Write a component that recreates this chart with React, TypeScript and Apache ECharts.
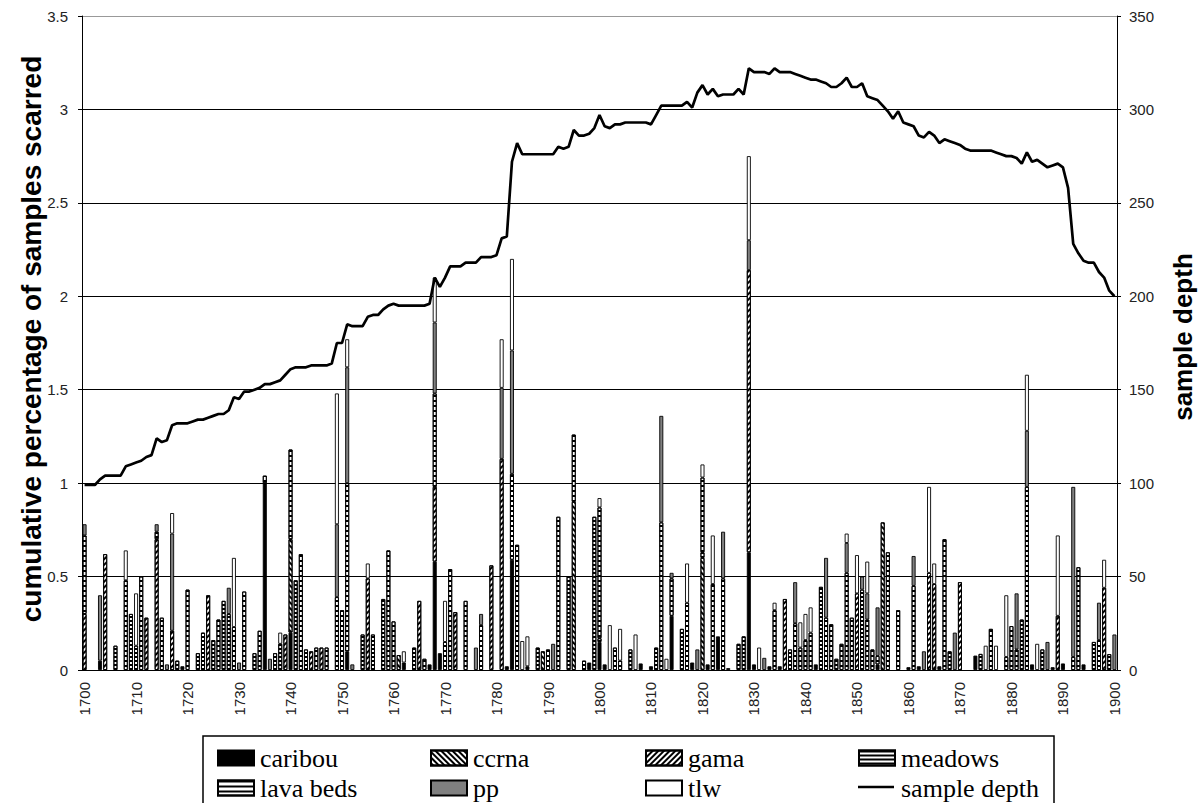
import React, { useEffect, useRef } from "react";
import * as echarts from "echarts";

const years: string[] = Array.from({ length: 201 }, (_, i) => String(1700 + i));

const sampleDepth: number[] = [
  99, 99, 99, 102, 104, 104, 104, 104, 109, 110,
  111, 112, 114, 115, 124, 122, 123, 131, 132, 132,
  132, 133, 134, 134, 135, 136, 137, 137, 139, 146,
  145, 149, 149, 150, 151, 153, 153, 154, 155, 158,
  161, 162, 162, 162, 163, 163, 163, 163, 164, 175,
  175, 185, 184, 184, 184, 189, 190, 190, 193, 195,
  196, 195, 195, 195, 195, 195, 195, 196, 210, 205,
  210, 216, 216, 216, 218, 218, 218, 221, 221, 221,
  222, 231, 232, 272, 282, 276, 276, 276, 276, 276,
  276, 276, 280, 279, 280, 289, 286, 286, 287, 290,
  297, 291, 290, 292, 292, 293, 293, 293, 293, 293,
  292, 297, 302, 302, 302, 302, 302, 304, 301, 309,
  313, 308, 311, 307, 308, 308, 308, 311, 308, 322,
  320, 320, 320, 319, 322, 320, 320, 320, 319, 318,
  317, 316, 316, 315, 314, 312, 312, 314, 317, 312,
  312, 314, 307, 306, 305, 302, 299, 295, 299, 293,
  292, 291, 286, 285, 288, 286, 282, 284, 283, 282,
  281, 279, 278, 278, 278, 278, 278, 277, 276, 275,
  275, 274, 271, 277, 272, 273, 271, 269, 270, 271,
  269, 258, 228, 223, 219, 218, 218, 213, 210, 203, 200,
];

const caribou: Record<number, number> = {
  1703: 0.05, 1719: 0.02, 1735: 1.0, 1740: 0.2, 1751: 0.1, 1762: 0.04, 1767: 0.03,
  1768: 0.58, 1769: 0.09, 1782: 0.02, 1783: 0.59, 1786: 0.02, 1798: 0.04, 1800: 0.15,
  1801: 0.03, 1808: 0.035, 1810: 0.02, 1814: 0.29, 1818: 0.04, 1821: 0.03, 1823: 0.18,
  1825: 0.01, 1829: 0.63, 1830: 0.03, 1833: 0.02, 1835: 0.02, 1842: 0.03, 1854: 0.03,
  1860: 0.015, 1862: 0.02, 1866: 0.02, 1873: 0.077, 1884: 0.03, 1888: 0.015,
  1890: 0.035, 1894: 0.03,
};

const ccrna: Record<number, number> = {
  1740: 0.5, 1761: 0.08, 1789: 0.1, 1795: 0.9, 1820: 0.6, 1855: 0.79,
};

const gama: Record<number, number> = {
  1700: 0.3, 1704: 0.62, 1712: 0.28, 1714: 0.7, 1717: 0.21, 1724: 0.4, 1739: 0.19,
  1744: 0.1, 1746: 0.12, 1755: 0.49, 1765: 0.37, 1768: 0.4, 1772: 0.31, 1779: 0.56,
  1781: 1.13, 1829: 1.51, 1836: 0.38, 1850: 0.41, 1864: 0.52, 1865: 0.46, 1870: 0.47,
  1889: 0.29, 1898: 0.44,
};

const meadows: Record<number, number> = {
  1706: 0.13, 1709: 0.3, 1710: 0.13, 1714: 0.04, 1718: 0.05, 1722: 0.09, 1723: 0.2,
  1725: 0.16, 1727: 0.37, 1728: 0.3, 1733: 0.09, 1737: 0.09, 1738: 0.14, 1741: 0.48,
  1743: 0.11, 1754: 0.19, 1756: 0.19, 1758: 0.38, 1764: 0.12, 1788: 0.12, 1794: 0.5,
  1797: 0.05, 1799: 0.82, 1800: 0.02, 1806: 0.11, 1811: 0.12, 1816: 0.22, 1820: 0.03,
  1827: 0.14, 1828: 0.18, 1837: 0.11, 1843: 0.445, 1846: 0.06, 1851: 0.43, 1868: 0.1,
  1874: 0.086, 1882: 0.27, 1886: 0.11, 1896: 0.15, 1899: 0.085,
};

const lavaBeds: Record<number, number> = {
  1700: 0.42, 1708: 0.48, 1711: 0.5, 1715: 0.28, 1720: 0.43, 1726: 0.27, 1729: 0.23,
  1731: 0.42, 1734: 0.21, 1735: 0.04, 1740: 0.48, 1742: 0.62, 1745: 0.12, 1747: 0.12,
  1749: 0.39, 1750: 0.32, 1751: 0.9, 1759: 0.64, 1760: 0.26, 1766: 0.06, 1768: 0.5,
  1770: 0.15, 1771: 0.54, 1774: 0.37, 1777: 0.24, 1783: 0.46, 1784: 0.67, 1790: 0.11,
  1792: 0.82, 1795: 0.36, 1800: 0.7, 1803: 0.12, 1804: 0.05, 1812: 0.79, 1814: 0.2,
  1817: 0.36, 1820: 0.4, 1822: 0.46, 1824: 0.49, 1834: 0.32, 1838: 0.25, 1839: 0.12,
  1840: 0.16, 1841: 0.2, 1844: 0.28, 1845: 0.245, 1847: 0.14, 1848: 0.52, 1849: 0.28,
  1852: 0.27, 1853: 0.11, 1854: 0.045, 1856: 0.63, 1858: 0.32, 1861: 0.45, 1867: 0.7,
  1876: 0.22, 1879: 0.07, 1880: 0.235, 1881: 0.11, 1883: 0.98, 1892: 0.07, 1893: 0.55,
  1897: 0.16,
};

const pp: Record<number, number> = {
  1700: 0.06, 1703: 0.35, 1714: 0.04, 1716: 0.03, 1717: 0.52, 1728: 0.14, 1730: 0.04,
  1736: 0.06, 1749: 0.39, 1751: 0.62, 1752: 0.03, 1768: 0.38, 1776: 0.12, 1777: 0.06,
  1781: 0.38, 1783: 0.66, 1791: 0.14, 1812: 0.57, 1814: 0.03, 1819: 0.11, 1824: 0.25,
  1829: 0.16, 1832: 0.065, 1838: 0.22, 1844: 0.32, 1848: 0.16, 1851: 0.07, 1852: 0.14,
  1854: 0.26, 1861: 0.16, 1863: 0.1, 1869: 0.2, 1881: 0.3, 1883: 0.3, 1887: 0.15,
  1892: 0.91, 1897: 0.2, 1900: 0.19,
};

const tlw: Record<number, number> = {
  1708: 0.16, 1710: 0.28, 1717: 0.11, 1729: 0.37, 1738: 0.06, 1749: 0.7, 1751: 0.15,
  1755: 0.08, 1762: 0.06, 1768: 0.24, 1770: 0.22, 1781: 0.26, 1783: 0.49, 1785: 0.155,
  1786: 0.16, 1800: 0.05, 1802: 0.24, 1804: 0.17, 1807: 0.19, 1813: 0.06, 1817: 0.21,
  1820: 0.07, 1822: 0.26, 1829: 0.45, 1831: 0.12, 1834: 0.04, 1839: 0.135, 1840: 0.14,
  1841: 0.135, 1848: 0.05, 1850: 0.205, 1852: 0.17, 1864: 0.46, 1865: 0.11, 1875: 0.13,
  1877: 0.13, 1879: 0.33, 1883: 0.3, 1885: 0.14, 1889: 0.43, 1898: 0.15,
};

const legendNames: string[] = ["caribou", "ccrna", "gama", "meadows", "lava beds", "pp", "tlw", "sample depth"];

const expand = (rec: Record<number, number>) =>
  years.map((y) => (rec[Number(y)] !== undefined ? rec[Number(y)] : "-"));

const ccrnaDecal = { symbol: "rect", symbolSize: 1, dashArrayX: [1, 0], dashArrayY: [2, 2], rotation: Math.PI / 4, color: "#000" };
const gamaDecal = { symbol: "rect", symbolSize: 1, dashArrayX: [1, 0], dashArrayY: [2, 2], rotation: -Math.PI / 4, color: "#000" };
const meadowsDecal = { symbol: "rect", symbolSize: 1, dashArrayX: [1, 0], dashArrayY: [1.5, 1.5], rotation: 0, color: "#000" };
const lavaDecal = { symbol: "rect", symbolSize: 1, dashArrayX: [1, 0], dashArrayY: [2, 3], rotation: 0, color: "#000" };

export default function App() {
  const ref = useRef<HTMLDivElement>(null);
  useEffect(() => {
    if (!ref.current) return;
    const chart = echarts.init(ref.current, undefined, { renderer: "svg" });
    const bar = (name: string, rec: Record<number, number>, color: string, decal?: any) => ({
      name,
      type: "bar",
      stack: "fires",
      yAxisIndex: 0,
      barWidth: 4,
      data: expand(rec),
      itemStyle: decal
        ? { color, borderColor: "#000", borderWidth: 0.9, decal }
        : { color, borderColor: "#000", borderWidth: 0.9 },
      emphasis: { disabled: true },
    });
    const font = "Liberation Sans";
    const legendCols = [217, 430, 645, 858];
    const legendRowCenters = [757, 787];
    const legends = legendNames.map((n, i) => {
      const isLine = n === "sample depth";
      const cy = legendRowCenters[Math.floor(i / 4)];
      const base: any = {
        data: [{ name: n, icon: "rect" }],
        left: legendCols[i % 4],
        top: isLine ? cy - 1.25 : cy - 7.5,
        padding: 0,
        itemWidth: 36,
        itemHeight: isLine ? 2.5 : 15,
        selectedMode: false,
        formatter: () => "",
        textStyle: { fontSize: 1 },
      };
      if (isLine) base.itemStyle = { color: "#000", borderWidth: 0 };
      return base;
    });
    const legendTexts = legendNames.map((n, i) => ({
      type: "text",
      x: legendCols[i % 4] + 43,
      y: legendRowCenters[Math.floor(i / 4)] + 1,
      style: {
        text: n,
        font: '26px "Liberation Serif", "Times New Roman", "DejaVu Serif", serif',
        fill: "#000",
        textAlign: "left",
        textVerticalAlign: "middle",
        align: "left",
        verticalAlign: "middle",
      },
    }));
    chart.setOption({
      animation: false,
      backgroundColor: "#fff",
      grid: { left: 82, right: 87, top: 16, bottom: 133, containLabel: false },
      legend: legends,
      xAxis: {
        type: "category",
        data: years,
        boundaryGap: true,
        axisLine: { lineStyle: { color: "#000", width: 1 } },
        axisTick: { interval: 4, alignWithLabel: true, length: 5, lineStyle: { color: "#000" } },
        axisLabel: { interval: 9, rotate: 90, margin: 12, fontFamily: font, fontSize: 15, color: "#222" },
        splitLine: { show: false },
      },
      yAxis: [
        {
          type: "value",
          min: 0,
          max: 3.5,
          interval: 0.5,
          axisLine: { show: true, lineStyle: { color: "#000" } },
          axisTick: { show: true, length: 4, lineStyle: { color: "#000" } },
          axisLabel: { margin: 14, fontFamily: font, fontSize: 15, color: "#222" },
          splitLine: {
            show: true,
            lineStyle: { color: ["#000", "#000", "#000", "#000", "#000", "#000", "#000", "#999"], width: 1 },
          },
        },
        {
          type: "value",
          min: 0,
          max: 350,
          interval: 50,
          position: "right",
          axisLine: { show: true, lineStyle: { color: "#000" } },
          axisTick: { show: true, length: 4, lineStyle: { color: "#000" } },
          axisLabel: { margin: 12, fontFamily: font, fontSize: 15, color: "#222" },
          splitLine: { show: false },
        },
      ],
      series: [
        bar("caribou", caribou, "#000"),
        bar("ccrna", ccrna, "#fff", ccrnaDecal),
        bar("gama", gama, "#fff", gamaDecal),
        bar("meadows", meadows, "#fff", meadowsDecal),
        bar("lava beds", lavaBeds, "#fff", lavaDecal),
        bar("pp", pp, "#808080"),
        bar("tlw", tlw, "#fff"),
        {
          name: "sample depth",
          type: "line",
          yAxisIndex: 1,
          data: sampleDepth,
          symbol: "none",
          showSymbol: false,
          lineStyle: { color: "#000", width: 2.7 },
          itemStyle: { color: "#000" },
          z: 5,
          emphasis: { disabled: true },
        },
      ],
      graphic: [
        {
          type: "rect",
          z: 0,
          shape: { x: 203, y: 736, width: 851, height: 90 },
          style: { fill: "none", stroke: "#000", lineWidth: 1.5 },
        },
        ...legendTexts,
        {
          type: "text",
          x: 31,
          y: 339,
          rotation: Math.PI / 2,
          style: {
            text: "cumulative percentage of samples scarred",
            font: 'bold 28px "Liberation Sans", Arial, sans-serif',
            fill: "#000",
            textAlign: "center",
            textVerticalAlign: "middle",
            align: "center",
            verticalAlign: "middle",
          },
        },
        {
          type: "text",
          x: 1183,
          y: 337,
          rotation: Math.PI / 2,
          style: {
            text: "sample depth",
            font: 'bold 26px "Liberation Sans", Arial, sans-serif',
            fill: "#000",
            textAlign: "center",
            textVerticalAlign: "middle",
            align: "center",
            verticalAlign: "middle",
          },
        },
      ],
    });
    return () => chart.dispose();
  }, []);
  return <div ref={ref} style={{ position: "absolute", left: 0, top: 0, width: 1204, height: 803 }} />;
}
